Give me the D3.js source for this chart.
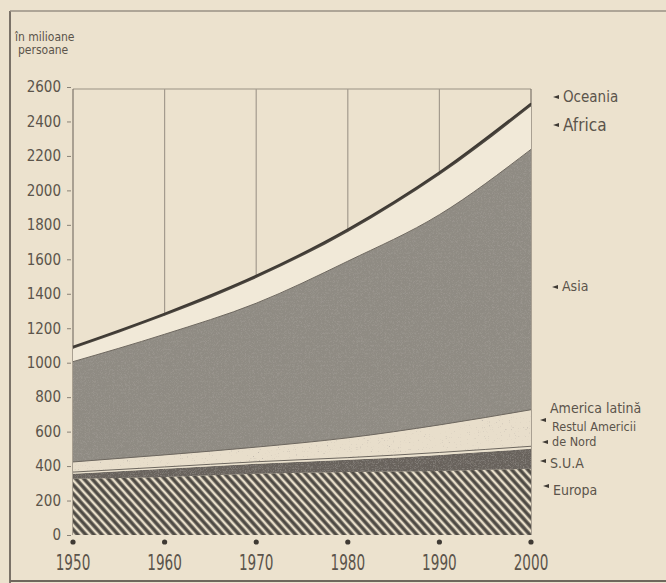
<!DOCTYPE html>
<html>
<head>
<meta charset="utf-8">
<script src="https://cdn.jsdelivr.net/npm/d3@7"></script>
<style>
  body { margin: 0; background: #ece2ce; }
  svg { display: block; }
  text { font-family: "DejaVu Sans Condensed", "DejaVu Sans", sans-serif; fill: #5b544b; }
</style>
</head>
<body>
<svg width="666" height="583"></svg>
<script>
// values in millions
const years = [1950, 1960, 1970, 1980, 1990, 2000];
const europa        = [326, 337, 355, 366, 372, 384];
const sua           = [29, 47, 58, 70, 93, 116];
const restulAmNord  = [10, 11, 12, 13, 14, 15];
const americaLatina = [59, 70, 85, 115, 160, 212];
const asia          = [582, 700, 835, 1025, 1220, 1511];
const africa        = [75, 107, 146, 170, 230, 250];
const oceania       = [12, 13, 14, 15, 16, 17];
const yTicks = [0, 200, 400, 600, 800, 1000, 1200, 1400, 1600, 1800, 2000, 2200, 2400, 2600];

const keys = ['europa', 'sua', 'restul', 'latina', 'asia', 'africa', 'oceania'];
const rows = years.map((yr, i) => ({
  year: yr, europa: europa[i], sua: sua[i], restul: restulAmNord[i],
  latina: americaLatina[i], asia: asia[i], africa: africa[i], oceania: oceania[i]
}));

const svg = d3.select('svg');
const defs = svg.append('defs');

// grain filter for the printed gray tones
function grainFilter(id, freq, r, g, b, k, off, seed) {
  const f = defs.append('filter').attr('id', id)
    .attr('filterUnits', 'userSpaceOnUse').attr('x', 0).attr('y', 0).attr('width', 666).attr('height', 583);
  f.append('feTurbulence').attr('type', 'turbulence').attr('baseFrequency', freq).attr('numOctaves', 1).attr('seed', seed).attr('result', 'n');
  f.append('feColorMatrix').attr('in', 'n').attr('type', 'matrix')
    .attr('values', `0 0 0 0 ${r}  0 0 0 0 ${g}  0 0 0 0 ${b}  ${k} 0 0 0 ${off}`).attr('result', 'dots');
  f.append('feComposite').attr('in', 'dots').attr('in2', 'SourceGraphic').attr('operator', 'in').attr('result', 'dotsIn');
  const m = f.append('feMerge');
  m.append('feMergeNode').attr('in', 'SourceGraphic');
  m.append('feMergeNode').attr('in', 'dotsIn');
}
grainFilter('grainDark', 0.75, 0.32, 0.3, 0.27, 2.6, -0.25, 5);
grainFilter('grainSua', 0.6, 0.22, 0.2, 0.18, 2.6, -0.2, 8);
grainFilter('grainLight', 0.55, 0.55, 0.5, 0.44, 3, -1.1, 2);

const hatch = defs.append('pattern').attr('id', 'hatch').attr('patternUnits', 'userSpaceOnUse')
  .attr('width', 6).attr('height', 6).attr('patternTransform', 'rotate(-42)');
hatch.append('rect').attr('width', 6).attr('height', 6).attr('fill', '#4d4943');
hatch.append('line').attr('x1', 3).attr('y1', 0).attr('x2', 3).attr('y2', 6)
  .attr('stroke', '#e8dec9').attr('stroke-width', 2.6);

// outer border
svg.append('line').attr('x1', 10).attr('y1', 11).attr('x2', 10).attr('y2', 583).attr('stroke', '#7a7268').attr('stroke-width', 2);
svg.append('line').attr('x1', 10).attr('y1', 11).attr('x2', 666).attr('y2', 11).attr('stroke', '#9a9184').attr('stroke-width', 1.5);
svg.append('line').attr('x1', 10).attr('y1', 581).attr('x2', 666).attr('y2', 581).attr('stroke', '#6f675d').attr('stroke-width', 2);

const x = d3.scaleLinear().domain([1950, 2000]).range([73, 531]);
const y = d3.scaleLinear().domain([0, 2600]).range([535, 87]);

// frame and vertical grid
svg.append('line').attr('x1', x(1950)).attr('x2', x(2000)).attr('y1', y(2600) + 2).attr('y2', y(2600) + 2)
  .attr('stroke', '#9a9184').attr('stroke-width', 1.2);
svg.append('g').selectAll('line').data(years).join('line')
  .attr('x1', d => x(d)).attr('x2', d => x(d)).attr('y1', y(2600) + 2).attr('y2', y(0))
  .attr('stroke', d => (d === 1950 || d === 2000) ? '#7d756a' : '#a49b8e').attr('stroke-width', 1.2);

const stack = d3.stack().keys(keys);
const series = stack(rows);
const area = d3.area().curve(d3.curveMonotoneX)
  .x(d => x(d.data.year)).y0(d => y(d[0])).y1(d => y(d[1]));

const fills = {
  europa: 'url(#hatch)', sua: '#67625b', restul: '#ebe2cf', latina: '#e8decb',
  asia: '#8f8b83', africa: '#f1e9d8', oceania: '#4c4740'
};
const filters = { sua: 'url(#grainSua)', asia: 'url(#grainDark)', latina: 'url(#grainLight)' };

svg.append('g').selectAll('path').data(series).join('path')
  .attr('d', area)
  .attr('fill', d => fills[d.key])
  .attr('filter', d => filters[d.key] || null);

// boundary lines
const line = d3.line().curve(d3.curveMonotoneX).x(d => x(d.data.year)).y(d => y(d[1]));
svg.append('g').selectAll('path').data(series.filter(s => ['restul', 'latina', 'asia'].includes(s.key))).join('path')
  .attr('d', line).attr('fill', 'none').attr('stroke', '#6d675f').attr('stroke-width', 1);
svg.append('path').datum(series[series.length - 1]).attr('d', line)
  .attr('fill', 'none').attr('stroke', '#3f3a34').attr('stroke-width', 1.8);

// y axis
const yAxis = d3.axisLeft(y).tickValues(yTicks).tickFormat(d3.format('d')).tickSize(4).tickPadding(6);
const ya = svg.append('g').attr('transform', `translate(${x(1950) - 2},0)`).call(yAxis);
ya.select('.domain').remove();
ya.selectAll('line').attr('stroke', '#8a8276');
ya.selectAll('text').attr('font-size', 15).attr('fill', '#564f46')
  .style('font-family', '"DejaVu Sans Condensed", sans-serif');

// x axis: dots and labels
svg.append('g').selectAll('circle').data(years).join('circle')
  .attr('cx', d => x(d)).attr('cy', 542).attr('r', 2.6).attr('fill', '#3f3a34');
svg.append('g').selectAll('text').data(years).join('text')
  .attr('x', d => x(d)).attr('y', 570).attr('text-anchor', 'middle')
  .attr('font-size', 21).attr('transform', d => `translate(${x(d)},570) scale(0.72,1) translate(${-x(d)},-570)`)
  .style('font-family', '"Liberation Sans Narrow", "DejaVu Sans Condensed", sans-serif')
  .text(d => d);

// unit title
svg.append('text').attr('x', 15).attr('y', 41).attr('font-size', 12).text('în milioane');
svg.append('text').attr('x', 18).attr('y', 54).attr('font-size', 12).text('persoane');

// right-side labels
const labels = [
  { t: 'Oceania', x: 563, y: 102, s: 15, ax: 97 },
  { t: 'Africa', x: 563, y: 131, s: 17, ax: 125 },
  { t: 'Asia', x: 562, y: 291, s: 14, ax: 287 },
  { t: 'America latină', x: 550, y: 413, s: 14, ax: 420 },
  { t: 'Restul Americii', x: 552, y: 431, s: 12.5, ax: 442 },
  { t: 'de Nord', x: 552, y: 446, s: 12.5 },
  { t: 'S.U.A', x: 550, y: 468, s: 14, ax: 461 },
  { t: 'Europa', x: 553, y: 495, s: 14, ax: 486 }
];
const lg = svg.append('g');
lg.selectAll('text').data(labels).join('text')
  .attr('x', d => d.x).attr('y', d => d.y).attr('font-size', d => d.s).text(d => d.t);
lg.selectAll('path').data(labels.filter(d => d.ax)).join('path')
  .attr('d', d => {
    const tip = d.x - 10;
    return `M${tip},${d.ax} L${tip + 6},${d.ax - 2} L${tip + 6},${d.ax + 2} Z`;
  })
  .attr('fill', '#3f3a34');
</script>
</body>
</html>
